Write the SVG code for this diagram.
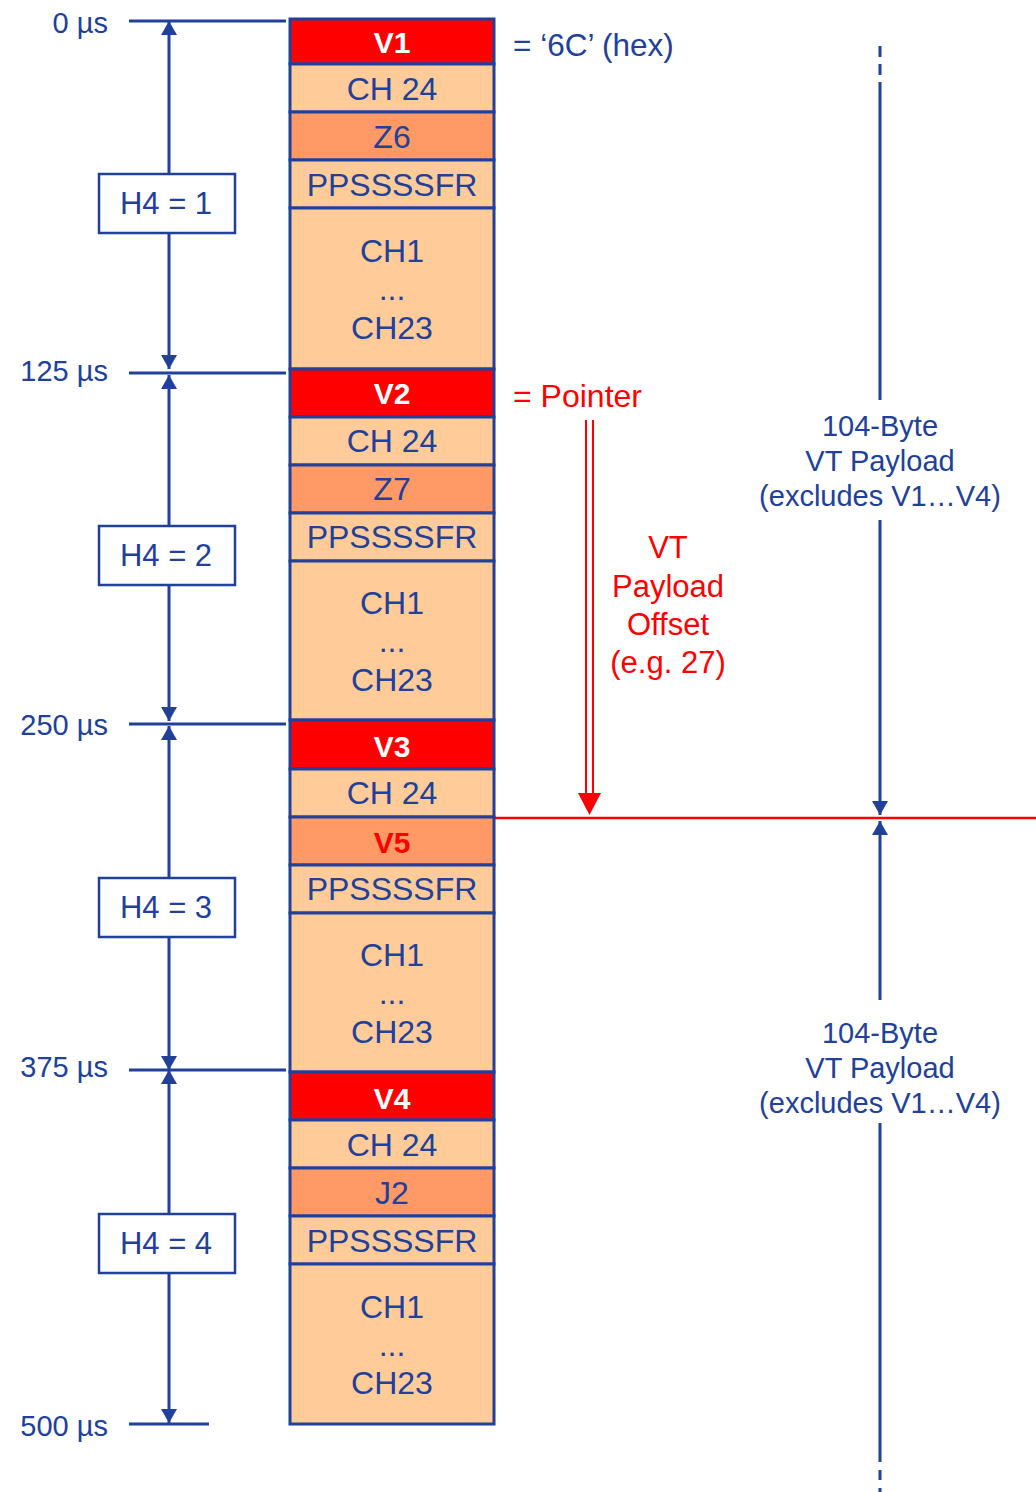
<svg xmlns="http://www.w3.org/2000/svg" width="1036" height="1492" viewBox="0 0 1036 1492">
<style>
text{font-family:"Liberation Sans",Arial,sans-serif;}
.cell{stroke:#21409A;stroke-width:3;}
.v{fill:#FF0000;}
.lt{fill:#FFCC99;}
.dk{fill:#FF9966;}
.vt{fill:#FFFFFF;font-size:30px;font-weight:bold;text-anchor:middle;}
.ct{fill:#21409A;font-size:32px;text-anchor:middle;}
.v5t{fill:#FF0000;font-size:30px;font-weight:bold;text-anchor:middle;}
.tl{fill:#21409A;font-size:29px;text-anchor:end;}
.bl{stroke:#21409A;stroke-width:3;fill:none;}
.h4{fill:#FFFFFF;stroke:#21409A;stroke-width:2.5;}
.h4t{fill:#21409A;font-size:31px;text-anchor:middle;}
.rt{fill:#FF0000;font-size:32px;}
.rtc{fill:#FF0000;font-size:31px;text-anchor:middle;}
.bt{fill:#21409A;font-size:29px;text-anchor:middle;}
</style>
<defs>
<marker id="ah" markerUnits="userSpaceOnUse" markerWidth="14" markerHeight="16" refX="14" refY="8" orient="auto-start-reverse" viewBox="0 0 14 16">
<path d="M0,0 L14,8 L0,16 z" fill="#21409A"/>
</marker>
</defs>

<g id="connectors">
<line class="bl" x1="129" y1="21" x2="286" y2="21"/>
<line class="bl" x1="129" y1="373" x2="286" y2="373"/>
<line class="bl" x1="129" y1="724" x2="286" y2="724"/>
<line class="bl" x1="129" y1="1070" x2="286" y2="1070"/>
<line class="bl" x1="129" y1="1424" x2="209" y2="1424"/>
<line class="bl" x1="169" y1="21" x2="169" y2="369" marker-start="url(#ah)" marker-end="url(#ah)"/>
<line class="bl" x1="169" y1="375" x2="169" y2="721" marker-start="url(#ah)" marker-end="url(#ah)"/>
<line class="bl" x1="169" y1="726" x2="169" y2="1070" marker-start="url(#ah)" marker-end="url(#ah)"/>
<line class="bl" x1="169" y1="1070" x2="169" y2="1423" marker-start="url(#ah)" marker-end="url(#ah)"/>
<line x1="586" y1="420" x2="586" y2="795" stroke="#FF0000" stroke-width="2"/>
<line x1="593" y1="420" x2="593" y2="795" stroke="#FF0000" stroke-width="2"/>
<polygon points="578,793 601,793 589.5,815" fill="#FF0000"/>
<line x1="495" y1="818" x2="1036" y2="818" stroke="#FF0000" stroke-width="2.5"/>
<line class="bl" x1="880" y1="46" x2="880" y2="83" stroke-dasharray="11,7"/>
<line class="bl" x1="880" y1="83" x2="880" y2="400"/>
<line class="bl" x1="880" y1="520" x2="880" y2="815" marker-end="url(#ah)"/>
<line class="bl" x1="880" y1="821" x2="880" y2="1000" marker-start="url(#ah)"/>
<line class="bl" x1="880" y1="1123" x2="880" y2="1452"/>
<line class="bl" x1="880" y1="1452" x2="880" y2="1492" stroke-dasharray="10,8"/>
</g>

<g id="time-labels">
<text class="tl" x="108" y="33">0 µs</text>
<text class="tl" x="108" y="381">125 µs</text>
<text class="tl" x="108" y="735">250 µs</text>
<text class="tl" x="108" y="1077">375 µs</text>
<text class="tl" x="108" y="1436">500 µs</text>
</g>

<g id="h4-1"><rect class="h4" x="99" y="174" width="136" height="59"/><text class="h4t" x="166" y="214">H4 = 1</text></g>
<g id="h4-2"><rect class="h4" x="99" y="526" width="136" height="59"/><text class="h4t" x="166" y="566">H4 = 2</text></g>
<g id="h4-3"><rect class="h4" x="99" y="878" width="136" height="59"/><text class="h4t" x="166" y="918">H4 = 3</text></g>
<g id="h4-4"><rect class="h4" x="99" y="1214" width="136" height="59"/><text class="h4t" x="166" y="1254">H4 = 4</text></g>

<g id="v1"><rect class="cell v" x="290" y="19" width="204" height="45"/><text class="vt" x="392" y="53">V1</text></g>
<g id="ch24-1"><rect class="cell lt" x="290" y="64" width="204" height="48"/><text class="ct" x="392" y="100">CH 24</text></g>
<g id="z6"><rect class="cell dk" x="290" y="112" width="204" height="48"/><text class="ct" x="392" y="148">Z6</text></g>
<g id="pps-1"><rect class="cell lt" x="290" y="160" width="204" height="48"/><text class="ct" x="392" y="196">PPSSSSFR</text></g>
<g id="blk-1"><rect class="cell lt" x="290" y="208" width="204" height="161"/><text class="ct" x="392" y="262">CH1</text><text class="ct" x="392" y="300">...</text><text class="ct" x="392" y="339">CH23</text></g>

<g id="v2"><rect class="cell v" x="290" y="369" width="204" height="48"/><text class="vt" x="392" y="404">V2</text></g>
<g id="ch24-2"><rect class="cell lt" x="290" y="417" width="204" height="48"/><text class="ct" x="392" y="452">CH 24</text></g>
<g id="z7"><rect class="cell dk" x="290" y="465" width="204" height="48"/><text class="ct" x="392" y="500">Z7</text></g>
<g id="pps-2"><rect class="cell lt" x="290" y="513" width="204" height="48"/><text class="ct" x="392" y="548">PPSSSSFR</text></g>
<g id="blk-2"><rect class="cell lt" x="290" y="561" width="204" height="159"/><text class="ct" x="392" y="614">CH1</text><text class="ct" x="392" y="652">...</text><text class="ct" x="392" y="691">CH23</text></g>

<g id="v3"><rect class="cell v" x="290" y="720" width="204" height="49"/><text class="vt" x="392" y="757">V3</text></g>
<g id="ch24-3"><rect class="cell lt" x="290" y="769" width="204" height="48"/><text class="ct" x="392" y="804">CH 24</text></g>
<g id="v5"><rect class="cell dk" x="290" y="817" width="204" height="48"/><text class="v5t" x="392" y="853">V5</text></g>
<g id="pps-3"><rect class="cell lt" x="290" y="865" width="204" height="48"/><text class="ct" x="392" y="900">PPSSSSFR</text></g>
<g id="blk-3"><rect class="cell lt" x="290" y="913" width="204" height="159"/><text class="ct" x="392" y="966">CH1</text><text class="ct" x="392" y="1004">...</text><text class="ct" x="392" y="1043">CH23</text></g>

<g id="v4"><rect class="cell v" x="290" y="1072" width="204" height="48"/><text class="vt" x="392" y="1109">V4</text></g>
<g id="ch24-4"><rect class="cell lt" x="290" y="1120" width="204" height="48"/><text class="ct" x="392" y="1156">CH 24</text></g>
<g id="j2"><rect class="cell dk" x="290" y="1168" width="204" height="48"/><text class="ct" x="392" y="1204">J2</text></g>
<g id="pps-4"><rect class="cell lt" x="290" y="1216" width="204" height="48"/><text class="ct" x="392" y="1252">PPSSSSFR</text></g>
<g id="blk-4"><rect class="cell lt" x="290" y="1264" width="204" height="160"/><text class="ct" x="392" y="1318">CH1</text><text class="ct" x="392" y="1356">...</text><text class="ct" x="392" y="1394">CH23</text></g>

<g id="label-6c"><text x="513" y="56" fill="#21409A" font-size="31.5">= ‘6C’ (hex)</text></g>
<g id="label-pointer"><text class="rt" x="513" y="407">= Pointer</text></g>
<g id="label-offset">
<text class="rtc" x="668" y="558">VT</text>
<text class="rtc" x="668" y="597">Payload</text>
<text class="rtc" x="668" y="635">Offset</text>
<text class="rtc" x="668" y="673">(e.g. 27)</text>
</g>
<g id="label-payload-1">
<text class="bt" x="880" y="436">104-Byte</text>
<text class="bt" x="880" y="471">VT Payload</text>
<text class="bt" x="880" y="506">(excludes V1…V4)</text>
</g>
<g id="label-payload-2">
<text class="bt" x="880" y="1043">104-Byte</text>
<text class="bt" x="880" y="1078">VT Payload</text>
<text class="bt" x="880" y="1113">(excludes V1…V4)</text>
</g>
</svg>
